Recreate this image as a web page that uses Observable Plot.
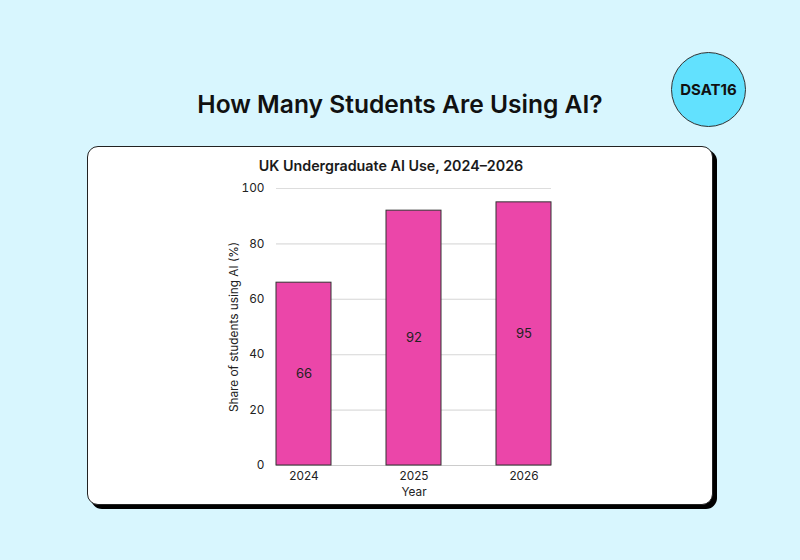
<!DOCTYPE html>
<html><head><meta charset="utf-8">
<script src="https://cdn.jsdelivr.net/npm/d3@7"></script>
<script src="https://cdn.jsdelivr.net/npm/@observablehq/plot@0.6"></script>
<style>
html,body{margin:0;padding:0;}
body{width:800px;height:560px;background:#d8f6fe;position:relative;overflow:hidden;font-family:Inter,"Noto Sans",sans-serif;color:#111;}
#title{position:absolute;left:0;width:800px;top:89px;text-align:center;font-size:24.6px;font-weight:600;}
#badge{position:absolute;left:671px;top:52px;width:73px;height:73px;border-radius:50%;background:#62e1fe;border:1.5px solid #333;display:flex;align-items:center;justify-content:center;font-weight:700;font-size:15px;}
#card{position:absolute;left:87px;top:146px;width:624px;height:357px;background:#fff;border:1.5px solid #222;border-radius:11px;box-shadow:4px 4px 0 #000;}
#sub{position:absolute;left:-9px;width:100%;top:10px;text-align:center;font-size:14.3px;font-weight:600;color:#1a1a1a;}
#chart{position:absolute;left:0;top:28px;}
</style></head>
<body>
<div id="title">How Many Students Are Using AI?</div>
<div id="badge">DSAT16</div>
<div id="card"><div id="sub">UK Undergraduate AI Use, 2024–2026</div><div id="chart"></div></div>
<script>
const years = ["2024", "2025", "2026"];
const shares = [66, 92, 95];
const yTicks = [0, 20, 40, 60, 80, 100];

const data = years.map((y, i) => ({year: y, share: shares[i]}));

const chart = Plot.plot({
  width: 624,
  height: 330,
  marginLeft: 188,
  marginRight: 161,
  marginTop: 13,
  marginBottom: 40,
  style: {fontFamily: "Inter, 'Noto Sans', sans-serif", fontSize: "11.8px", color: "#222", background: "transparent"},
  x: {domain: years, paddingInner: 0.5, paddingOuter: 0, label: "Year", labelAnchor: "center", labelOffset: 30, labelArrow: "none", tickSize: 0, tickPadding: 6},
  y: {domain: [0, 100], ticks: yTicks, label: "Share of students using AI (%)", labelAnchor: "center", labelArrow: "none", labelOffset: 47, tickSize: 0, tickPadding: 12, grid: true},
  marks: [
    Plot.gridY(yTicks, {stroke: "#ddd", strokeOpacity: 1}),
    Plot.ruleY([0], {stroke: "#ccc"}),
    Plot.barY(data, {x: "year", y: "share", fill: "#eb46a9", stroke: "#333", strokeWidth: 1}),
    Plot.text(data, {x: "year", y: d => d.share / 2, text: d => String(d.share), fill: "#222", fontSize: 13})
  ]
});
document.getElementById("chart").appendChild(chart);
</script>
</body></html>
